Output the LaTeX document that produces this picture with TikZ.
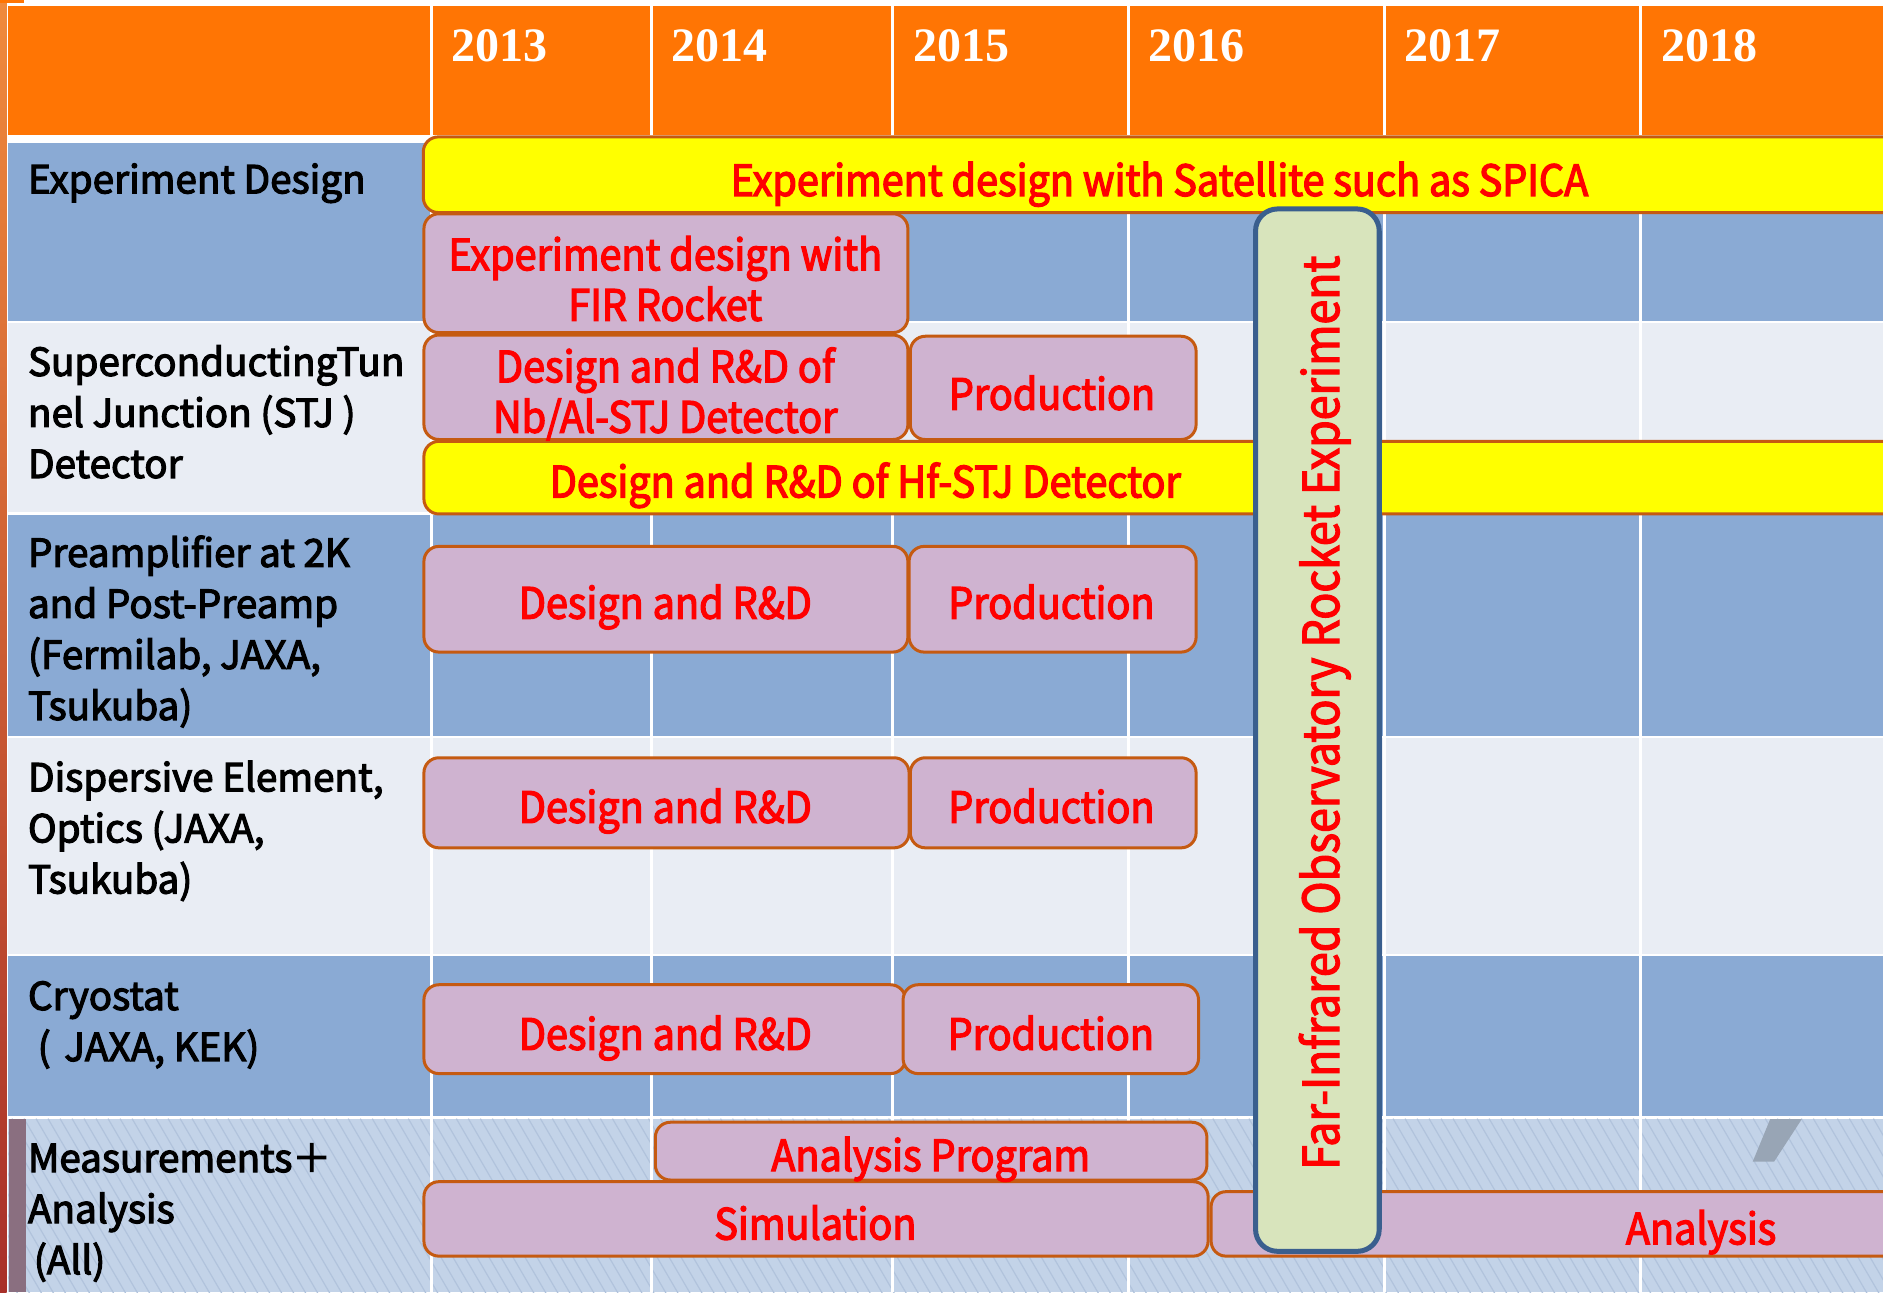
\documentclass[tikz,border=0pt]{standalone}
\usepackage{fontspec}
\setmainfont{Noto Sans CJK JP}
\newfontfamily\labelfont{Noto Sans CJK JP}[FakeBold=3]
\newfontfamily\barfont{Noto Sans CJK JP}[FakeStretch=0.92, FakeBold=3]
\newfontfamily\rockfont{Noto Sans CJK JP}[FakeStretch=0.9, FakeBold=2.5]
\newfontfamily\yearfont{Liberation Serif}
\usetikzlibrary{fit}

\definecolor{hdr}{HTML}{FF7504}
\definecolor{rowdark}{HTML}{8AAAD4}
\definecolor{rowlight}{HTML}{E9EDF4}
\definecolor{rowhatch}{HTML}{C3D3E8}
\definecolor{hatchline}{HTML}{B1C3DC}
\definecolor{barpink}{HTML}{CFB3D0}
\definecolor{barbord}{HTML}{C55A11}
\definecolor{baryel}{HTML}{FFFF00}
\definecolor{rocketfill}{HTML}{D8E4BC}
\definecolor{rocketbord}{HTML}{3A5F8E}
\definecolor{txtred}{HTML}{FF0000}
\definecolor{slashgray}{HTML}{98A5B5}
\definecolor{edgebar}{HTML}{8A6F80}
\definecolor{stripA}{HTML}{F08A3C}
\definecolor{stripB}{HTML}{A8302A}

\tikzset{
  bar/.style={draw=barbord, line width=1.5pt, rounded corners=7.5pt, inner sep=0pt},
  pinkbar/.style={bar, fill=barpink},
  yelbar/.style={bar, fill=baryel},
  rocketbar/.style={draw=rocketbord, fill=rocketfill, line width=2.5pt,
    rounded corners=11pt, inner sep=0pt},
  bartext/.style={text=txtred, inner sep=0pt, align=center,
    font=\barfont\fontsize{21.5}{25.2}\selectfont},
  barline/.style={bartext, text height=15.8pt, text depth=0pt},
  rocktext/.style={text=txtred, inner sep=0pt, text height=18pt, text depth=0pt,
    font=\rockfont\fontsize{24.8}{24.8}\selectfont},
  rowlabel/.style={anchor=base west, align=left, inner sep=0pt,
    font=\labelfont\fontsize{19.3}{25.5}\selectfont},
  yearlabel/.style={anchor=base west, inner sep=0pt, text=white,
    font=\yearfont\bfseries\fontsize{24}{24}\selectfont},
  gridline/.style={white, line width=1.5pt}
}

\begin{document}
\begin{tikzpicture}[x=0.6pt, y=-0.6pt]
\useasboundingbox (0,0) rectangle (1568,1076);
\clip (0,0) rectangle (1568,1076);

% slide edge
\shade[top color=stripA, bottom color=stripB] (0,0) rectangle (5.5,1076);
\fill[hdr] (0,0) rectangle (20,2.5);

% table rows
\fill[hdr]      (6.7,5)     rectangle (1568,112.4);
\fill[rowdark]  (6.7,119.3) rectangle (1568,267);
\fill[rowlight] (6.7,269)   rectangle (1568,426.5);
\fill[rowdark]  (6.7,428.5) rectangle (1568,612.5);
\fill[rowlight] (6.7,614.5) rectangle (1568,794.3);
\fill[rowdark]  (6.7,796.3) rectangle (1568,929.5);
\fill[rowhatch] (6.7,931.5) rectangle (1568,1076);

% diagonal hatching of the last row
\begin{scope}
  \clip (6.7,931.5) rectangle (1568,1076);
  \foreach \i in {0,...,168}
    \draw[hatchline, line width=0.6pt] ({\i*10-90},931.5) -- ++(85,146);
\end{scope}
\fill[edgebar] (7.5,931.5) rectangle (21.6,1076);

% column separators
\foreach \x in {359.5,542.5,743.5,939.3,1152.5,1366}
  \draw[gridline] (\x,5) -- (\x,1076);

% small grey mark
\fill[slashgray] (1474,932) -- (1500.3,932) -- (1477.3,967.3) -- (1459.5,967.3) -- cycle;

% year headings
\node[yearlabel] (y13) at (376,51.5)  {2013};
\node[yearlabel] (y14) at (559,51.5)  {2014};
\node[yearlabel] (y15) at (760,51.5)  {2015};
\node[yearlabel] (y16) at (956,51.5)  {2016};
\node[yearlabel] (y17) at (1169,51.5) {2017};
\node[yearlabel] (y18) at (1383,51.5) {2018};

% row headings (anchored on the baseline of their last line)
\node[rowlabel] (rExp)  at (23,161)    {Experiment Design};
\node[rowlabel] (rStj)  at (23,398)    {SuperconductingTun\\nel Junction (STJ )\\Detector};
\node[rowlabel] (rAmp)  at (23,599.5)  {Preamplifier at 2K\\and Post-Preamp\\(Fermilab, JAXA,\\Tsukuba)};
\node[rowlabel] (rDisp) at (23,744)    {Dispersive Element,\\Optics (JAXA,\\Tsukuba)};
\node[rowlabel] (rCryo) at (23,883.5)  {Cryostat\\\kern0.25em(\kern0.35em JAXA, KEK)};
\node[rowlabel] (rMeas) at (23,1061)   {Measurements＋\\Analysis\\\kern0.15em(All)};

% schedule bars
\node[yelbar,  fit={(352.5,114)(1620,177)}]   (bSpica) {};
\node[pinkbar, fit={(353,178)(756,277)}]      (bFir) {};
\node[pinkbar, fit={(353,279)(756,366)}]      (bNbAl) {};
\node[pinkbar, fit={(758,280)(996,366)}]      (bStjProd) {};
\node[yelbar,  fit={(353,367.5)(1620,428)}]   (bHf) {};
\node[pinkbar, fit={(353,455)(756,543)}]      (bAmpRD) {};
\node[pinkbar, fit={(757,455)(996,543)}]      (bAmpProd) {};
\node[pinkbar, fit={(353,631)(757,706)}]      (bDispRD) {};
\node[pinkbar, fit={(758,631)(996,706)}]      (bDispProd) {};
\node[pinkbar, fit={(353,820)(754,894)}]      (bCryoRD) {};
\node[pinkbar, fit={(752,820)(998,894)}]      (bCryoProd) {};
\node[pinkbar, fit={(545.7,934.5)(1005,982.6)}] (bProg) {};
\node[pinkbar, fit={(353,984)(1006,1046)}]    (bSim) {};
\node[pinkbar, fit={(1008.5,992.3)(1620,1046)}] (bAna) {};

% bar texts
\node[barline] (tSpica)    at (965.5,150) {Experiment design with Satellite such as SPICA};
\node[bartext] (tFir)      at (554,232)   {Experiment design with\\FIR Rocket};
\node[bartext] (tNbAl)     at (554,328)   {Design and R\&D of\\Nb/Al-STJ Detector};
\node[barline] (tStjProd)  at (876,328)   {Production};
\node[barline] (tHf)       at (720.5,401) {Design and R\&D of Hf-STJ Detector};
\node[barline] (tAmpRD)    at (554,502)   {Design and R\&D};
\node[barline] (tAmpProd)  at (875.5,502) {Production};
\node[barline] (tDispRD)   at (554,672)   {Design and R\&D};
\node[barline] (tDispProd) at (875.5,672) {Production};
\node[barline] (tCryoRD)   at (554,861)   {Design and R\&D};
\node[barline] (tCryoProd) at (875,861)   {Production};
\node[barline] (tProg)     at (775,962)   {Analysis Program};
\node[barline] (tSim)      at (679,1019)  {Simulation};
\node[barline] (tAna)      at (1416.5,1023) {Analysis};

% rocket campaign
\node[rocketbar, fit={(1045.5,174)(1148.5,1042)}] (bRocket) {};
\node[rocktext, rotate=90] (tRocket) at (1100,593.5) {Far-Infrared Observatory Rocket Experiment};
\end{tikzpicture}
\end{document}
